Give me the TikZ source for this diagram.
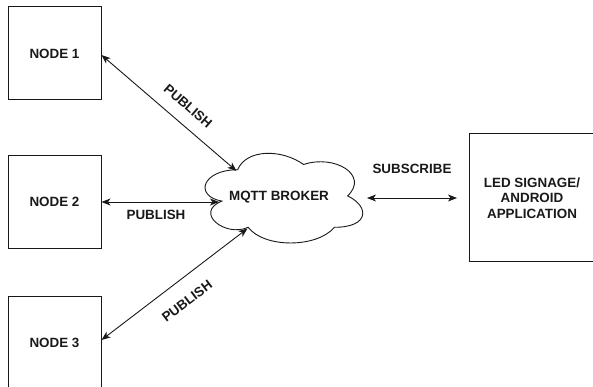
\documentclass[tikz,border=0pt]{standalone}
\usepackage{fontspec}
\setmainfont{Liberation Sans}
\usetikzlibrary{arrows.meta}
\begin{document}
\begin{tikzpicture}[x=1pt,y=-1pt,
  box/.style={draw=black!90, line width=1pt, inner sep=0pt, minimum width=93pt, minimum height=93pt},
  lbl/.style={font=\fontsize{13.4}{15.7}\selectfont\bfseries, text=black!90, inner sep=1pt},
  link/.style={draw=black!90, line width=0.9pt, {Stealth[length=9pt,width=7pt,inset=2.5pt]}-{Stealth[length=9pt,width=7pt,inset=2.5pt]}}]
\path[use as bounding box, clip] (0,0) rectangle (593,387);
\fill[white] (0,0) rectangle (593,387);

\node[box] (n1) at (54.5,53.5) {};
\node[lbl] at (n1.center) {NODE 1};
\node[box] (n2) at (54.5,202) {};
\node[lbl] at (n2.center) {NODE 2};
\node[box] (n3) at (54.5,342.5) {};
\node[lbl] at (n3.center) {NODE 3};
\node[box, minimum width=127pt, minimum height=127pt] (led) at (532.5,197.5) {};
\node[lbl, align=center] at (532,198) {LED SIGNAGE/\\ANDROID\\APPLICATION};

% cloud
\draw[draw=black!90, line width=0.9pt]
  (237.6,169.75) .. controls (202.4,169.75) and (193.6,195.9) .. (221.8,201.1)
  .. controls (193.6,212.6) and (225.3,237.7) .. (248.2,227.3)
  .. controls (264.0,248.2) and (316.8,248.2) .. (334.4,227.3)
  .. controls (369.6,227.3) and (369.6,206.4) .. (347.6,195.9)
  .. controls (369.6,175.0) and (334.4,154.1) .. (303.6,164.5)
  .. controls (281.6,148.8) and (246.4,148.8) .. (237.6,169.75) -- cycle;
\node[lbl] (broker) at (279,197) {MQTT BROKER};
\coordinate (c1) at (236.5,171);
\coordinate (c2) at (219,202);
\coordinate (c3) at (247.5,228.5);
\coordinate (s1) at (367,198);
\coordinate (s2) at (457,198);

\draw[link] (n1.east |- 0,55) -- (c1);
\draw[link] (n2.east) -- (c2);
\draw[link] (n3.east |- 0,340) -- (c3);
\draw[link] (s1) -- (s2);

\node[lbl, rotate=-41] at (188,106) {PUBLISH};
\node[lbl] at (156,215) {PUBLISH};
\node[lbl, rotate=37] at (187,301) {PUBLISH};
\node[lbl] at (412,169) {SUBSCRIBE};
\end{tikzpicture}
\end{document}
